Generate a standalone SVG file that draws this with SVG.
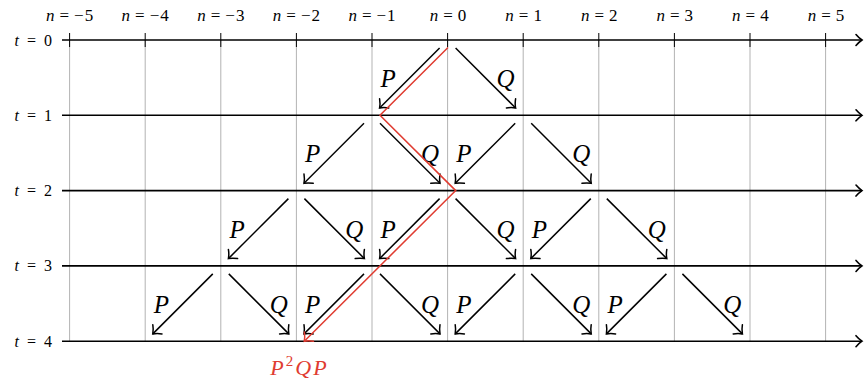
<svg xmlns="http://www.w3.org/2000/svg" width="864" height="385" viewBox="0 0 864 385">
<defs>
  <marker id="head" markerUnits="userSpaceOnUse" orient="auto" markerWidth="20" markerHeight="20" refX="0" refY="0" viewBox="-10 -10 20 20" overflow="visible">
    <path d="M-6.5,-6.5 C-4,-3 -1.2,-0.8 0,0 C-1.2,0.8 -4,3 -6.5,6.5" fill="none" stroke="#000" stroke-width="1.5" stroke-linecap="round"/>
  </marker>
  <marker id="redhead" markerUnits="userSpaceOnUse" orient="auto" markerWidth="20" markerHeight="20" refX="0" refY="0" viewBox="-10 -10 20 20" overflow="visible">
    <path d="M-6.5,-6.5 C-4,-3 -1.2,-0.8 0,0 C-1.2,0.8 -4,3 -6.5,6.5" fill="none" stroke="#e03c31" stroke-width="1.5" stroke-linecap="round"/>
  </marker>
  <marker id="axhead" markerUnits="userSpaceOnUse" orient="auto" markerWidth="20" markerHeight="20" refX="0" refY="0" viewBox="-10 -10 20 20" overflow="visible">
    <path d="M-6,-5.5 C-3.5,-2.5 -1,-0.7 0,0 C-1,0.7 -3.5,2.5 -6,5.5" fill="none" stroke="#000" stroke-width="1.6" stroke-linecap="round"/>
  </marker>
</defs>
<rect width="864" height="385" fill="#fff"/>

<g id="grid" stroke="#b3b3b3" stroke-width="1">
  <line x1="69.6" y1="40" x2="69.6" y2="341.2"/>
  <line x1="145.2" y1="40" x2="145.2" y2="341.2"/>
  <line x1="220.8" y1="40" x2="220.8" y2="341.2"/>
  <line x1="296.4" y1="40" x2="296.4" y2="341.2"/>
  <line x1="372" y1="40" x2="372" y2="341.2"/>
  <line x1="447.6" y1="40" x2="447.6" y2="341.2"/>
  <line x1="523.2" y1="40" x2="523.2" y2="341.2"/>
  <line x1="598.8" y1="40" x2="598.8" y2="341.2"/>
  <line x1="674.4" y1="40" x2="674.4" y2="341.2"/>
  <line x1="750" y1="40" x2="750" y2="341.2"/>
  <line x1="825.6" y1="40" x2="825.6" y2="341.2"/>
</g>

<g id="axes" stroke="#000" stroke-width="1.6" fill="none" marker-end="url(#axhead)">
  <line x1="62" y1="40" x2="862" y2="40"/>
  <line x1="62" y1="115.3" x2="862" y2="115.3"/>
  <line x1="62" y1="190.6" x2="862" y2="190.6"/>
  <line x1="62" y1="265.9" x2="862" y2="265.9"/>
  <line x1="62" y1="341.2" x2="862" y2="341.2"/>
</g>
<g id="ticks" stroke="#000" stroke-width="1">
  <line x1="69.6" y1="33" x2="69.6" y2="47"/>
  <line x1="145.2" y1="33" x2="145.2" y2="47"/>
  <line x1="220.8" y1="33" x2="220.8" y2="47"/>
  <line x1="296.4" y1="33" x2="296.4" y2="47"/>
  <line x1="372" y1="33" x2="372" y2="47"/>
  <line x1="447.6" y1="33" x2="447.6" y2="47"/>
  <line x1="523.2" y1="33" x2="523.2" y2="47"/>
  <line x1="598.8" y1="33" x2="598.8" y2="47"/>
  <line x1="674.4" y1="33" x2="674.4" y2="47"/>
  <line x1="750" y1="33" x2="750" y2="47"/>
  <line x1="825.6" y1="33" x2="825.6" y2="47"/>
</g>

<g id="n-labels">
  <text font-family="Liberation Serif" font-size="17" text-anchor="middle" x="69.6" y="21"><tspan font-style="italic">n</tspan><tspan dx="5">=</tspan><tspan dx="5">−</tspan><tspan dx="1">5</tspan></text>
  <text font-family="Liberation Serif" font-size="17" text-anchor="middle" x="145.2" y="21"><tspan font-style="italic">n</tspan><tspan dx="5">=</tspan><tspan dx="5">−</tspan><tspan dx="1">4</tspan></text>
  <text font-family="Liberation Serif" font-size="17" text-anchor="middle" x="220.8" y="21"><tspan font-style="italic">n</tspan><tspan dx="5">=</tspan><tspan dx="5">−</tspan><tspan dx="1">3</tspan></text>
  <text font-family="Liberation Serif" font-size="17" text-anchor="middle" x="296.4" y="21"><tspan font-style="italic">n</tspan><tspan dx="5">=</tspan><tspan dx="5">−</tspan><tspan dx="1">2</tspan></text>
  <text font-family="Liberation Serif" font-size="17" text-anchor="middle" x="372" y="21"><tspan font-style="italic">n</tspan><tspan dx="5">=</tspan><tspan dx="5">−</tspan><tspan dx="1">1</tspan></text>
  <text font-family="Liberation Serif" font-size="17" text-anchor="middle" x="448" y="21"><tspan font-style="italic">n</tspan><tspan dx="5">=</tspan><tspan dx="5">0</tspan></text>
  <text font-family="Liberation Serif" font-size="17" text-anchor="middle" x="523.6" y="21"><tspan font-style="italic">n</tspan><tspan dx="5">=</tspan><tspan dx="5">1</tspan></text>
  <text font-family="Liberation Serif" font-size="17" text-anchor="middle" x="599.2" y="21"><tspan font-style="italic">n</tspan><tspan dx="5">=</tspan><tspan dx="5">2</tspan></text>
  <text font-family="Liberation Serif" font-size="17" text-anchor="middle" x="674.8" y="21"><tspan font-style="italic">n</tspan><tspan dx="5">=</tspan><tspan dx="5">3</tspan></text>
  <text font-family="Liberation Serif" font-size="17" text-anchor="middle" x="750.4" y="21"><tspan font-style="italic">n</tspan><tspan dx="5">=</tspan><tspan dx="5">4</tspan></text>
  <text font-family="Liberation Serif" font-size="17" text-anchor="middle" x="826" y="21"><tspan font-style="italic">n</tspan><tspan dx="5">=</tspan><tspan dx="5">5</tspan></text>
</g>

<g id="t-labels">
  <text font-family="Liberation Serif" font-size="16" text-anchor="end" x="52" y="45.5"><tspan font-style="italic">t</tspan><tspan dx="8">=</tspan><tspan dx="8">0</tspan></text>
  <text font-family="Liberation Serif" font-size="16" text-anchor="end" x="52" y="120.8"><tspan font-style="italic">t</tspan><tspan dx="8">=</tspan><tspan dx="8">1</tspan></text>
  <text font-family="Liberation Serif" font-size="16" text-anchor="end" x="52" y="196.1"><tspan font-style="italic">t</tspan><tspan dx="8">=</tspan><tspan dx="8">2</tspan></text>
  <text font-family="Liberation Serif" font-size="16" text-anchor="end" x="52" y="271.4"><tspan font-style="italic">t</tspan><tspan dx="8">=</tspan><tspan dx="8">3</tspan></text>
  <text font-family="Liberation Serif" font-size="16" text-anchor="end" x="52" y="346.7"><tspan font-style="italic">t</tspan><tspan dx="8">=</tspan><tspan dx="8">4</tspan></text>
</g>

<g id="connectors" stroke-width="1.5" fill="none">
  <g id="t0-n0" transform="translate(447.6,40)">
    <line stroke="#000" marker-end="url(#head)" x1="-8" y1="8" x2="-68" y2="68"/><line stroke="#000" marker-end="url(#head)" x1="8" y1="8" x2="68" y2="68"/>
    <text fill="#000" font-family="Liberation Serif" font-style="italic" font-size="25" x="-67" y="47">P</text><text fill="#000" font-family="Liberation Serif" font-style="italic" font-size="25" x="67" y="47" text-anchor="end">Q</text>
  </g>
  <g id="t1-nm1" transform="translate(372,115.3)">
    <line stroke="#000" marker-end="url(#head)" x1="-8" y1="8" x2="-68" y2="68"/><line stroke="#000" marker-end="url(#head)" x1="8" y1="8" x2="68" y2="68"/>
    <text fill="#000" font-family="Liberation Serif" font-style="italic" font-size="25" x="-67" y="47">P</text><text fill="#000" font-family="Liberation Serif" font-style="italic" font-size="25" x="67" y="47" text-anchor="end">Q</text>
  </g>
  <g id="t1-n1" transform="translate(523.2,115.3)">
    <line stroke="#000" marker-end="url(#head)" x1="-8" y1="8" x2="-68" y2="68"/><line stroke="#000" marker-end="url(#head)" x1="8" y1="8" x2="68" y2="68"/>
    <text fill="#000" font-family="Liberation Serif" font-style="italic" font-size="25" x="-67" y="47">P</text><text fill="#000" font-family="Liberation Serif" font-style="italic" font-size="25" x="67" y="47" text-anchor="end">Q</text>
  </g>
  <g id="t2-nm2" transform="translate(296.4,190.6)">
    <line stroke="#000" marker-end="url(#head)" x1="-8" y1="8" x2="-68" y2="68"/><line stroke="#000" marker-end="url(#head)" x1="8" y1="8" x2="68" y2="68"/>
    <text fill="#000" font-family="Liberation Serif" font-style="italic" font-size="25" x="-67" y="47">P</text><text fill="#000" font-family="Liberation Serif" font-style="italic" font-size="25" x="67" y="47" text-anchor="end">Q</text>
  </g>
  <g id="t2-n0" transform="translate(447.6,190.6)">
    <line stroke="#000" marker-end="url(#head)" x1="-8" y1="8" x2="-68" y2="68"/><line stroke="#000" marker-end="url(#head)" x1="8" y1="8" x2="68" y2="68"/>
    <text fill="#000" font-family="Liberation Serif" font-style="italic" font-size="25" x="-67" y="47">P</text><text fill="#000" font-family="Liberation Serif" font-style="italic" font-size="25" x="67" y="47" text-anchor="end">Q</text>
  </g>
  <g id="t2-n2" transform="translate(598.8,190.6)">
    <line stroke="#000" marker-end="url(#head)" x1="-8" y1="8" x2="-68" y2="68"/><line stroke="#000" marker-end="url(#head)" x1="8" y1="8" x2="68" y2="68"/>
    <text fill="#000" font-family="Liberation Serif" font-style="italic" font-size="25" x="-67" y="47">P</text><text fill="#000" font-family="Liberation Serif" font-style="italic" font-size="25" x="67" y="47" text-anchor="end">Q</text>
  </g>
  <g id="t3-nm3" transform="translate(220.8,265.9)">
    <line stroke="#000" marker-end="url(#head)" x1="-8" y1="8" x2="-68" y2="68"/><line stroke="#000" marker-end="url(#head)" x1="8" y1="8" x2="68" y2="68"/>
    <text fill="#000" font-family="Liberation Serif" font-style="italic" font-size="25" x="-67" y="47">P</text><text fill="#000" font-family="Liberation Serif" font-style="italic" font-size="25" x="67" y="47" text-anchor="end">Q</text>
  </g>
  <g id="t3-nm1" transform="translate(372,265.9)">
    <line stroke="#000" marker-end="url(#head)" x1="-8" y1="8" x2="-68" y2="68"/><line stroke="#000" marker-end="url(#head)" x1="8" y1="8" x2="68" y2="68"/>
    <text fill="#000" font-family="Liberation Serif" font-style="italic" font-size="25" x="-67" y="47">P</text><text fill="#000" font-family="Liberation Serif" font-style="italic" font-size="25" x="67" y="47" text-anchor="end">Q</text>
  </g>
  <g id="t3-n1" transform="translate(523.2,265.9)">
    <line stroke="#000" marker-end="url(#head)" x1="-8" y1="8" x2="-68" y2="68"/><line stroke="#000" marker-end="url(#head)" x1="8" y1="8" x2="68" y2="68"/>
    <text fill="#000" font-family="Liberation Serif" font-style="italic" font-size="25" x="-67" y="47">P</text><text fill="#000" font-family="Liberation Serif" font-style="italic" font-size="25" x="67" y="47" text-anchor="end">Q</text>
  </g>
  <g id="t3-n3" transform="translate(674.4,265.9)">
    <line stroke="#000" marker-end="url(#head)" x1="-8" y1="8" x2="-68" y2="68"/><line stroke="#000" marker-end="url(#head)" x1="8" y1="8" x2="68" y2="68"/>
    <text fill="#000" font-family="Liberation Serif" font-style="italic" font-size="25" x="-67" y="47">P</text><text fill="#000" font-family="Liberation Serif" font-style="italic" font-size="25" x="67" y="47" text-anchor="end">Q</text>
  </g>
</g>

<g id="path-P2QP">
  <polyline stroke="#e03c31" stroke-width="1.5" fill="none" marker-end="url(#redhead)" points="448,47.5 380,115.3 455.7,190.6 304.3,341.2"/>
  <text font-family="Liberation Serif" font-size="22" fill="#e03c31" x="298.5" y="375" text-anchor="middle"><tspan font-style="italic">P</tspan><tspan font-size="15" dx="2" dy="-9">2</tspan><tspan font-style="italic" dx="2" dy="9">Q</tspan><tspan font-style="italic" dx="2">P</tspan></text>
</g>
</svg>
